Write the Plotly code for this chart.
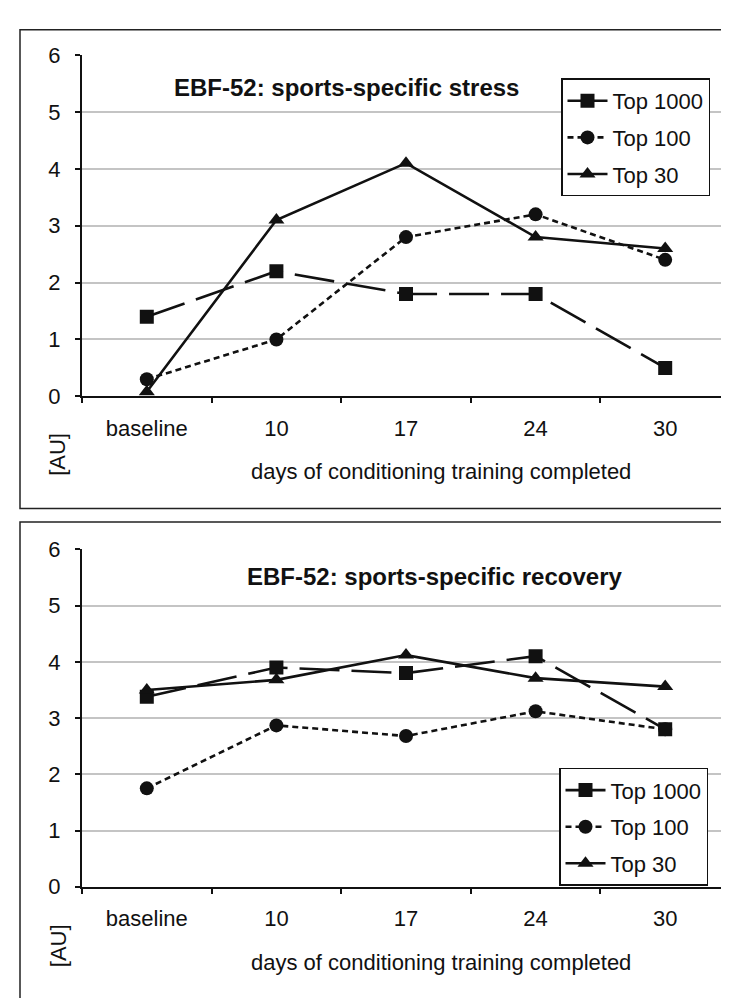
import plotly.graph_objects as go

W, H = 729, 998

categories = ["baseline", "10", "17", "24", "30"]
series_names = ["Top 1000", "Top 100", "Top 30"]

stress_top1000 = [1.4, 2.2, 1.8, 1.8, 0.5]
stress_top100 = [0.3, 1.0, 2.8, 3.2, 2.4]
stress_top30 = [0.08, 3.1, 4.1, 2.8, 2.6]

recovery_top1000 = [3.38, 3.9, 3.8, 4.1, 2.8]
recovery_top100 = [1.75, 2.87, 2.68, 3.12, 2.8]
recovery_top30 = [3.5, 3.68, 4.12, 3.71, 3.56]

y_ticks = [0, 1, 2, 3, 4, 5, 6]
titles = ["EBF-52: sports-specific stress", "EBF-52: sports-specific recovery"]
x_title = "days of conditioning training completed"
y_title = "[AU]"

FONT = "Liberation Sans, Arial, sans-serif"
INK = "#111111"

def px(x):
    return x / W

def py(y):
    return 1 - y / H

styles = [
    dict(symbol="square", dash="40px,12px"),
    dict(symbol="circle", dash="6px,4px"),
    dict(symbol="triangle-up", dash="solid"),
]

fig = go.Figure()

panels = [
    dict(data=[stress_top1000, stress_top100, stress_top30], xa="x", ya="y", legend="legend"),
    dict(data=[recovery_top1000, recovery_top100, recovery_top30], xa="x2", ya="y2", legend="legend2"),
]

for p in panels:
    for name, vals, st in zip(series_names, p["data"], styles):
        fig.add_trace(go.Scatter(
            x=categories, y=vals, name=name, mode="lines+markers",
            xaxis=p["xa"], yaxis=p["ya"], legend=p["legend"],
            legendgroup=p["legend"] + name,
            line=dict(color=INK, width=2.6, dash=st["dash"]),
            marker=dict(symbol=st["symbol"], size=14, color=INK),
        ))

xdom = [px(74), px(722)]
ydom_top = [py(386), py(36)]
ydom_bot = [py(889), py(543)]

xaxis_common = dict(
    type="category", categoryorder="array", categoryarray=categories,
    range=[-0.5, 4.5], domain=xdom, showline=True, linecolor=INK, linewidth=2,
    ticks="outside", tickson="boundaries", ticklen=5, tickwidth=1.5, tickcolor=INK,
    showgrid=False, zeroline=False, ticklabelstandoff=11,
    tickfont=dict(family=FONT, size=22, color=INK), fixedrange=True,
)
yaxis_common = dict(
    range=[0, 6], tickvals=y_ticks, showline=True, linecolor=INK, linewidth=2,
    ticks="outside", ticklen=5, tickwidth=1.5, tickcolor=INK,
    showgrid=True, gridcolor="#c4c4c4", gridwidth=1.5, zeroline=False,
    ticklabelstandoff=10,
    tickfont=dict(family=FONT, size=22, color=INK), fixedrange=True,
)

legend_common = dict(
    bgcolor="white", bordercolor=INK, borderwidth=1.5,
    font=dict(family=FONT, size=22, color=INK),
    xanchor="left", yanchor="top", tracegroupgap=5, itemwidth=40,
)

annotations = []
title_pos = [(338, 69), (426, 571)]
xt_pos = [(433, 463), (433, 967)]
au_pos = [(50, 446), (50, 950)]
for t, (tx, ty), (ax_, ay_), (ux, uy) in zip(titles, title_pos, xt_pos, au_pos):
    annotations.append(dict(text="<b>" + t + "</b>", x=px(tx), y=py(ty), xref="paper", yref="paper",
                            xanchor="center", yanchor="middle", showarrow=False,
                            font=dict(family=FONT, size=24, color=INK)))
    annotations.append(dict(text=x_title, x=px(ax_), y=py(ay_), xref="paper", yref="paper",
                            xanchor="center", yanchor="middle", showarrow=False,
                            font=dict(family=FONT, size=22, color=INK)))
    annotations.append(dict(text=y_title, x=px(ux), y=py(uy), xref="paper", yref="paper",
                            xanchor="center", yanchor="middle", showarrow=False, textangle=-90,
                            font=dict(family=FONT, size=22, color=INK)))

shapes = [
    dict(type="rect", xref="paper", yref="paper", x0=px(12), x1=1.02, y0=py(501), y1=py(10),
         line=dict(color="#222222", width=1.5), fillcolor="rgba(0,0,0,0)", layer="below"),
    dict(type="rect", xref="paper", yref="paper", x0=px(12), x1=1.02, y0=-0.02, y1=py(515),
         line=dict(color="#222222", width=1.5), fillcolor="rgba(0,0,0,0)", layer="below"),
]

fig.update_layout(
    width=W, height=H, margin=dict(l=0, r=0, t=0, b=0),
    paper_bgcolor="white", plot_bgcolor="white",
    xaxis=dict(xaxis_common, anchor="y"),
    yaxis=dict(yaxis_common, domain=ydom_top, anchor="x"),
    xaxis2=dict(xaxis_common, anchor="y2"),
    yaxis2=dict(yaxis_common, domain=ydom_bot, anchor="x2"),
    legend=dict(legend_common, x=px(553), y=py(60)),
    legend2=dict(legend_common, x=px(551), y=py(767)),
    annotations=annotations, shapes=shapes, showlegend=True,
)

fig.write_html("out.html")
